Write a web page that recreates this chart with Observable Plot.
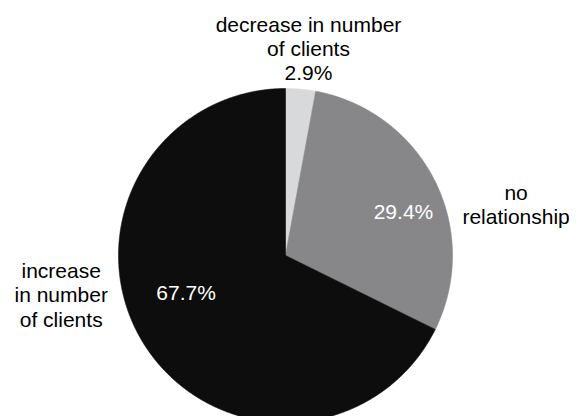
<!DOCTYPE html>
<html>
<head>
<meta charset="utf-8">
<script src="https://cdn.jsdelivr.net/npm/d3@7"></script>
<script src="https://cdn.jsdelivr.net/npm/@observablehq/plot@0.6"></script>
<style>
  html, body { margin: 0; padding: 0; background: #fff; }
  #chart { width: 582px; height: 416px; overflow: hidden; }
</style>
</head>
<body>
<div id="chart"></div>
<script>
// ---- data ----
const categories = ["decrease in number\nof clients", "no\nrelationship", "increase\nin number\nof clients"];
const keys = ["decrease", "none", "increase"];
const values = [2.9, 29.4, 67.7];
const percentLabels = ["2.9%", "29.4%", "67.7%"];

// ---- layout / style ----
const colors = ["#d8d9db", "#87878a", "#0d0d0d"];
const R = 167;
// per-slice label placement: radius factor + small pixel nudges (dy = pixels downward)
const outside = [
  {r: 1.25, dx: 4, dy: 1, withPct: true},
  {r: 1.25, dx: 44, dy: 42, withPct: false},
  {r: 1.25, dx: -47, dy: -71, withPct: false}
];
const inside = [
  null,
  {r: 0.75, dx: 6, dy: 13},
  {r: 0.75, dx: 7, dy: -28}
];

const pie = d3.pie().sort(null).value(d => d)(values);

// polygon vertices for each slice (center + arc sampled by angle)
const pts = [];
pie.forEach((p, i) => {
  pts.push({key: keys[i], x: 0, y: 0});
  const n = Math.max(2, Math.ceil((p.endAngle - p.startAngle) / 0.005));
  for (let j = 0; j <= n; j++) {
    const a = p.startAngle + (p.endAngle - p.startAngle) * j / n;
    pts.push({key: keys[i], x: Math.sin(a), y: Math.cos(a)});
  }
  pts.push({key: keys[i], x: 0, y: 0});
});

const outLabels = pie.map((p, i) => {
  const m = (p.startAngle + p.endAngle) / 2, L = outside[i];
  return {
    x: L.r * Math.sin(m) + L.dx / R,
    y: L.r * Math.cos(m) - L.dy / R,
    text: L.withPct ? categories[i] + "\n" + percentLabels[i] : categories[i]
  };
});
const inLabels = pie.map((p, i) => {
  const L = inside[i];
  if (!L) return null;
  const m = (p.startAngle + p.endAngle) / 2;
  return {x: L.r * Math.sin(m) + L.dx / R, y: L.r * Math.cos(m) - L.dy / R, text: percentLabels[i]};
}).filter(d => d);

const chart = Plot.plot({
  width: 582,
  height: 416,
  style: {fontFamily: "'Liberation Sans', Arial, sans-serif", background: "#fff"},
  x: {domain: [-1, 1], range: [285 - R, 285 + R], axis: null},
  y: {domain: [-1, 1], range: [255 + R, 255 - R], axis: null},
  color: {type: "ordinal", domain: keys, range: colors},
  marks: [
    Plot.line(pts, {x: "x", y: "y", z: "key", fill: "key", stroke: "key", strokeWidth: 0.6, curve: "linear"}),
    Plot.text(outLabels, {x: "x", y: "y", text: "text", fill: "#000", fontSize: 21, lineHeight: 1.15}),
    Plot.text(inLabels, {x: "x", y: "y", text: "text", fill: "#fff", fontSize: 21})
  ]
});
document.getElementById("chart").appendChild(chart);
</script>
</body>
</html>
